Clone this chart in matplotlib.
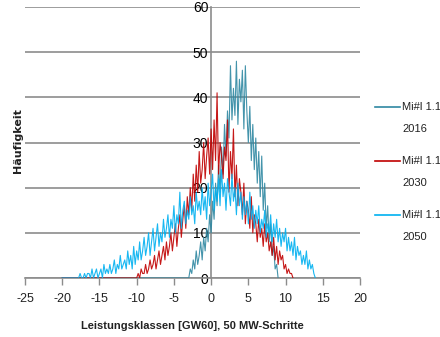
#!/usr/bin/env python
# -*- coding: utf-8 -*-

import numpy as np
import matplotlib
matplotlib.use('Agg')
from matplotlib import pyplot as plt
from matplotlib.lines import Line2D

plt.rcParams['font.family'] = ['Liberation Sans Narrow', 'Liberation Sans', 'DejaVu Sans']

# class width of the sampled values (GW)
STEP = 0.2

# Mi#l 1.1 2016: zeros from -20 up to -3.2, then the readings from -3.0 to 9.0
start_2016 = -20.0
vals_2016 = [0] * 85 + [
    0, 2, 1, 4, 2, 6, 3, 5, 8, 4,
    9, 6, 11, 8, 14, 10, 17, 13, 21, 16,
    25, 19, 29, 23, 34, 27, 37, 31, 47, 35,
    42, 36, 48, 34, 44, 39, 46, 33, 47, 37,
    30, 38, 26, 34, 24, 31, 21, 28, 18, 27,
    15, 21, 11, 16, 8, 12, 5, 7, 2, 3,
    0]

# Mi#l 1.1 2030: zeros from -20 up to -10.2, then -10.0 to 11.0
start_2030 = -20.0
vals_2030 = [0] * 50 + [
    0, 1, 0, 2, 1, 1, 3, 1, 2, 4,
    2, 3, 5, 2, 4, 6, 3, 5, 7, 4,
    8, 5, 7, 10, 6, 9, 12, 7, 11, 14,
    9, 13, 16, 11, 18, 14, 20, 15, 23, 17,
    25, 19, 28, 21, 24, 30, 22, 27, 31, 23,
    33, 24, 35, 26, 41, 23, 30, 27, 22, 29,
    26, 35, 19, 28, 22, 33, 18, 25, 16, 22,
    19, 14, 21, 12, 17, 15, 11, 18, 10, 14,
    12, 8, 13, 9, 11, 7, 12, 8, 10, 6,
    8, 5, 9, 4, 7, 3, 6, 4, 5, 2,
    3, 1, 2, 1, 1, 0]

# Mi#l 1.1 2050: zeros from -20 up to -17.8, then -17.6 to 14.0
start_2050 = -20.0
vals_2050 = [0] * 12 + [
    1, 0, 0, 1, 0, 1, 1, 0, 2, 0,
    1, 2, 0, 1, 2, 0, 3, 1, 2, 1,
    3, 1, 2, 4, 1, 3, 2, 5, 2, 3,
    4, 2, 6, 3, 5, 2, 7, 3, 6, 4,
    8, 4, 6, 9, 5, 7, 10, 5, 8, 11,
    6, 9, 12, 7, 10, 8, 13, 9, 11, 14,
    9, 13, 11, 16, 10, 14, 12, 19, 11, 15,
    17, 12, 15, 13, 18, 14, 16, 12, 19, 15,
    17, 14, 20, 15, 18, 13, 21, 16, 19, 23,
    15, 20, 17, 22, 16, 24, 18, 21, 15, 22,
    19, 16, 23, 17, 20, 14, 21, 16, 19, 13,
    18, 14, 17, 12, 19, 13, 16, 11, 15, 12,
    16, 10, 13, 11, 15, 9, 12, 10, 14, 8,
    12, 9, 13, 8, 11, 7, 10, 8, 11, 6,
    9, 6, 8, 5, 9, 4, 7, 5, 6, 3,
    5, 3, 6, 2, 4, 2, 3, 1, 0]

labels = ['Mi#l 1.1\n2016', 'Mi#l 1.1\n2030', 'Mi#l 1.1\n2050']
colors = ['#2F88A2', '#C00000', '#00B0F0']
xticks = [-25, -20, -15, -10, -5, 0, 5, 10, 15, 20]
yticks = [0, 10, 20, 30, 40, 50, 60]

fig = plt.figure(figsize=(4.4, 3.37), dpi=100)
ax = fig.add_axes([25 / 440, 1 - 278 / 337, 335 / 440, 271 / 337])

series = [(start_2016, vals_2016), (start_2030, vals_2030), (start_2050, vals_2050)]
for (start, vals), c in zip(series, colors):
    x = start + STEP * np.arange(len(vals))
    ax.plot(x, vals, color=c, linewidth=0.8, alpha=0.9, zorder=3)

ax.set_xlim(-25, 20)
ax.set_ylim(0, 60)
ax.set_xticks(xticks)
ax.set_xticklabels([str(t) for t in xticks], fontsize=9, color='#222222')
ax.set_yticks(yticks)
ax.set_yticklabels([str(t) for t in yticks], fontsize=9, color='#222222')
ax.grid(True, axis='y', color='#8C8C8C', linewidth=1.2, zorder=0)

ax.spines['top'].set_visible(False)
ax.spines['right'].set_visible(False)
ax.spines['left'].set_position(('data', 0))
ax.spines['left'].set_color('#8C8C8C')
ax.spines['left'].set_linewidth(1.2)
ax.spines['left'].set_zorder(1)
ax.spines['bottom'].set_color('#8C8C8C')
ax.spines['bottom'].set_linewidth(1.2)
ax.tick_params(axis='y', length=0, pad=2)
ax.tick_params(axis='x', length=5, width=1, color='#8C8C8C', direction='out', pad=6)

ax.set_xlabel('Leistungsklassen [GW60], 50 MW-Schritte', fontsize=8,
              fontweight='bold', color='#222222', labelpad=11)
fig.text(18 / 440, 1 - 141 / 337, 'Häufigkeit', rotation=90, fontsize=8,
         fontweight='bold', family=['DejaVu Sans'], ha='center', va='center', color='#222222')

# legend drawn by hand so the handle sits on the first text row
for i, (lab, c) in enumerate(zip(labels, colors)):
    ypix = 107 + 54 * i
    fig.add_artist(Line2D([375 / 440, 400 / 440], [1 - ypix / 337] * 2, color=c, linewidth=1.2))
    l1, l2 = lab.split('\n')
    fig.text(402 / 440, 1 - ypix / 337, l1, fontsize=8, va='center', color='#222222')
    fig.text(402 / 440, 1 - (ypix + 22) / 337, l2, fontsize=8, va='center', color='#222222')

plt.savefig('out.png', dpi=100)
